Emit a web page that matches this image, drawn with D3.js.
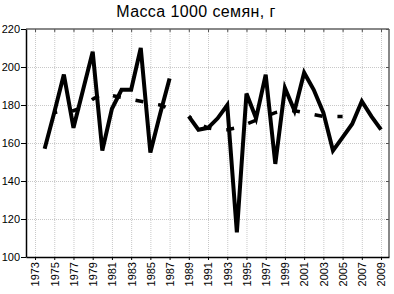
<!DOCTYPE html>
<html>
<head>
<meta charset="utf-8">
<script src="https://cdn.jsdelivr.net/npm/d3@7"></script>
<style>
  body { margin: 0; background: #fff; }
  svg { display: block; font-family: "Liberation Sans", Arial, sans-serif; }
  .grid line { stroke: #c8c8c8; stroke-dasharray: 1,1; }
  .grid path { display: none; }
</style>
</head>
<body>
<svg width="394" height="294"></svg>
<script>

// chart data
var years = [1974, 1975, 1976, 1977, 1978, 1979, 1980, 1981, 1982, 1983, 1984, 1985, 1986, 1987, 1988,
	1989, 1990, 1991, 1992, 1993, 1994, 1995, 1996, 1997, 1998, 1999, 2000, 2001, 2002, 2003, 2004,
	2005, 2006, 2007, 2008, 2009];

// solid line, seed mass by year (no value for 1988)
var massValues = [157, 176, 196, 168, 188, 208, 156, 178, 188, 188, 210, 155, 175, 194, null,
	174, 167, 168, 173, 180, 113, 186, 173, 196, 149, 189, 177, 197, 188, 176, 156,
	163, 170, 182, 174, 167];

// dashed line, smoothed
var smoothValues = [null, 176, 177, 177, 179, 183, 186, 185, 184, 183, 182, 181, 180, 178, null,
	174, 170, 168, 167, 167, 168, 170, 172, 174, 176, 177, 177, 176, 175, 174, 174,
	174, null, null, null, null];

var xTickYears = [1973, 1975, 1977, 1979, 1981, 1983, 1985, 1987, 1989, 1991, 1993, 1995, 1997,
	1999, 2001, 2003, 2005, 2007, 2009];
var yTicks = [100, 120, 140, 160, 180, 200, 220];
var chartTitle = 'Масса 1000 семян, г';

var margin = {top: 29, right: 5, bottom: 37, left: 26};
var width = 394 - margin.left - margin.right;
var height = 294 - margin.top - margin.bottom;

var svg = d3.select('svg');

svg.append('text')
	.attr('x', 196)
	.attr('y', 17)
	.attr('text-anchor', 'middle')
	.style('font-size', '16px')
	.style('letter-spacing', '0.4px')
	.text(chartTitle);

var g = svg.append('g')
	.attr('transform', 'translate(' + margin.left + ',' + margin.top + ')');

var x = d3.scaleLinear().domain([1972.06, 2009.83]).range([0, width]);
var y = d3.scaleLinear().domain([100, 220]).range([height, 0]);

// grid
g.append('g')
	.attr('class', 'grid')
	.attr('transform', 'translate(0,' + height + ')')
	.call(d3.axisBottom(x).tickValues(xTickYears).tickSize(-height).tickFormat(''));

g.append('g')
	.attr('class', 'grid')
	.call(d3.axisLeft(y).tickValues(yTicks.slice(1, -1)).tickSize(-width).tickFormat(''));

// frame: top and right in grey
g.append('line')
	.attr('x1', 0).attr('x2', width).attr('y1', 0).attr('y2', 0)
	.attr('stroke', '#888').attr('stroke-width', 2);
g.append('line')
	.attr('x1', width).attr('x2', width).attr('y1', 0).attr('y2', height)
	.attr('stroke', '#888').attr('stroke-width', 2);

// small inside ticks on top and right
g.append('g')
	.call(d3.axisTop(x).tickValues(xTickYears).tickSize(-3).tickFormat(''))
	.call(function(a) { a.select('.domain').remove(); a.selectAll('line').attr('stroke', '#555'); });
g.append('g')
	.attr('transform', 'translate(' + width + ',0)')
	.call(d3.axisRight(y).tickValues(yTicks).tickSize(-3).tickFormat(''))
	.call(function(a) { a.select('.domain').remove(); a.selectAll('line').attr('stroke', '#555'); });

// axes
var xAxis = g.append('g')
	.attr('transform', 'translate(0,' + height + ')')
	.call(d3.axisBottom(x).tickValues(xTickYears).tickFormat(d3.format('d')).tickSize(3).tickSizeOuter(0));
xAxis.select('.domain').attr('stroke', '#000').attr('stroke-width', 1.5);
xAxis.selectAll('text')
	.attr('transform', 'rotate(-90)')
	.attr('text-anchor', 'end')
	.attr('x', -5)
	.attr('y', 0)
	.attr('dy', '0.35em')
	.style('font-size', '11px')
	.attr('fill', '#000');

var yAxis = g.append('g')
	.call(d3.axisLeft(y).tickValues(yTicks).tickSize(5).tickSizeOuter(0).tickPadding(1));
yAxis.select('.domain').attr('stroke', '#000').attr('stroke-width', 1.5);
yAxis.selectAll('text')
	.style('font-size', '11px')
	.attr('fill', '#000');

// lines
var line = function(vals) {
	return d3.line()
		.defined(function(d, i) { return vals[i] != null; })
		.x(function(d, i) { return x(years[i]); })
		.y(function(d, i) { return y(vals[i]); })(years);
};

g.append('path')
	.attr('d', line(smoothValues))
	.attr('fill', 'none')
	.attr('stroke', '#000')
	.attr('stroke-width', 3.5)
	.attr('stroke-dasharray', '8,15')
	.attr('stroke-dashoffset', 5);

g.append('path')
	.attr('d', line(massValues))
	.attr('fill', 'none')
	.attr('stroke', '#000')
	.attr('stroke-width', 4)
	.attr('stroke-linejoin', 'miter');

</script>
</body>
</html>
